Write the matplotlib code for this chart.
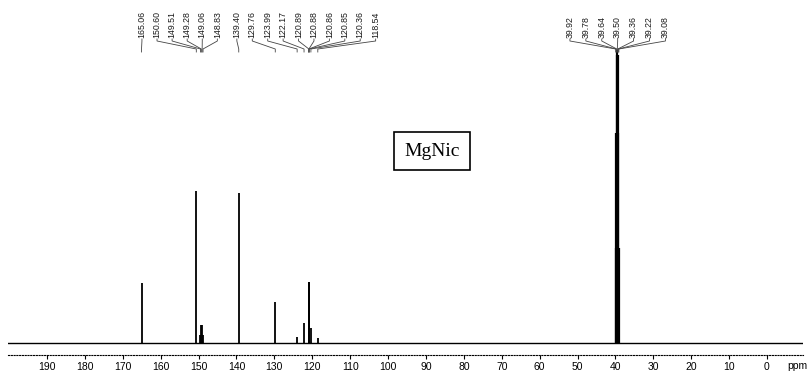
import matplotlib
matplotlib.use("Agg")
import matplotlib.pyplot as plt
import matplotlib.transforms as mtransforms
from matplotlib.ticker import MultipleLocator

# 13C NMR peaks (ppm) and their intensities (arbitrary units)
ligand_ppm = [165.06, 150.60, 149.51, 149.28, 149.06, 148.83, 139.40, 129.76,
              123.99, 122.17, 120.89, 120.88, 120.86, 120.85, 120.36, 118.54]
ligand_int = [60, 152, 8, 18, 18, 8, 150, 41,
              6, 20, 61, 61, 61, 61, 15, 5]

# DMSO-d6 solvent septet
dmso_ppm = [39.92, 39.78, 39.64, 39.50, 39.36, 39.22, 39.08]
dmso_int = [95, 210, 288, 293, 288, 210, 95]

axis_ticks = list(range(0, 200, 10))
sample_name = "MgNic"

fig = plt.figure(figsize=(8.07, 3.75), dpi=100)
ax = fig.add_axes([0.0099, 0.0533, 0.9851, 0.9467])

# spectrum: baseline + stick peaks
ax.axhline(0, color="black", lw=1.0)
ax.vlines(ligand_ppm, 0, ligand_int, color="black", lw=1.3)
ax.vlines(dmso_ppm, 0, dmso_int, color="black", lw=1.6)

ax.set_xlim(200.3, -9.5)
ax.set_ylim(-12, 343)

for side in ["top", "left", "right"]:
    ax.spines[side].set_visible(False)
ax.spines["bottom"].set_linestyle((0, (1, 1.5)))
ax.spines["bottom"].set_linewidth(0.8)
ax.set_yticks([])
ax.set_xticks(axis_ticks)
ax.xaxis.set_minor_locator(MultipleLocator(1))
ax.tick_params(axis="x", which="major", length=3, width=0.8, pad=2,
               labelsize=7.5)
ax.tick_params(axis="x", which="minor", length=0)
for lab in ax.get_xticklabels():
    lab.set_family(["Liberation Sans", "DejaVu Sans"])
ax.annotate("ppm", xy=(-7.9, 0), xycoords=("data", "axes fraction"),
            xytext=(0, -4.6), textcoords="offset points", ha="center",
            va="top", fontsize=7.5, family=["Liberation Sans", "DejaVu Sans"])

# peak labels with connector lines
trans = mtransforms.blended_transform_factory(ax.transData, fig.transFigure)


def fy(px):
    return 1 - px / 375.0


def label_peaks(ppms, label_pos):
    for p, lx in zip(ppms, label_pos):
        ax.text(lx, fy(38), f"{p:.2f}", transform=trans, rotation=90,
                ha="center", va="bottom", fontsize=6.3, color="#1a1a1a",
                family=["Liberation Sans", "DejaVu Sans"])
        ax.plot([lx, lx, p, p], [fy(39), fy(41), fy(49), fy(52)],
                transform=trans, color="#444444", lw=0.6, clip_on=False)


left_pos = [164.95 - 3.98 * k for k in range(6)] + \
           [139.9 - 4.07 * k for k in range(10)]
dmso_pos = [52.0 - 4.2 * k for k in range(7)]
label_peaks(ligand_ppm, left_pos)
label_peaks(dmso_ppm, dmso_pos)

fig.text(432 / 807, fy(151), sample_name, ha="center", va="center",
         fontsize=14, family=["Liberation Serif", "DejaVu Serif"],
         bbox=dict(boxstyle="square,pad=0.55", fc="white", ec="black",
                   lw=1.2))

fig.savefig("out.png", dpi=100)
